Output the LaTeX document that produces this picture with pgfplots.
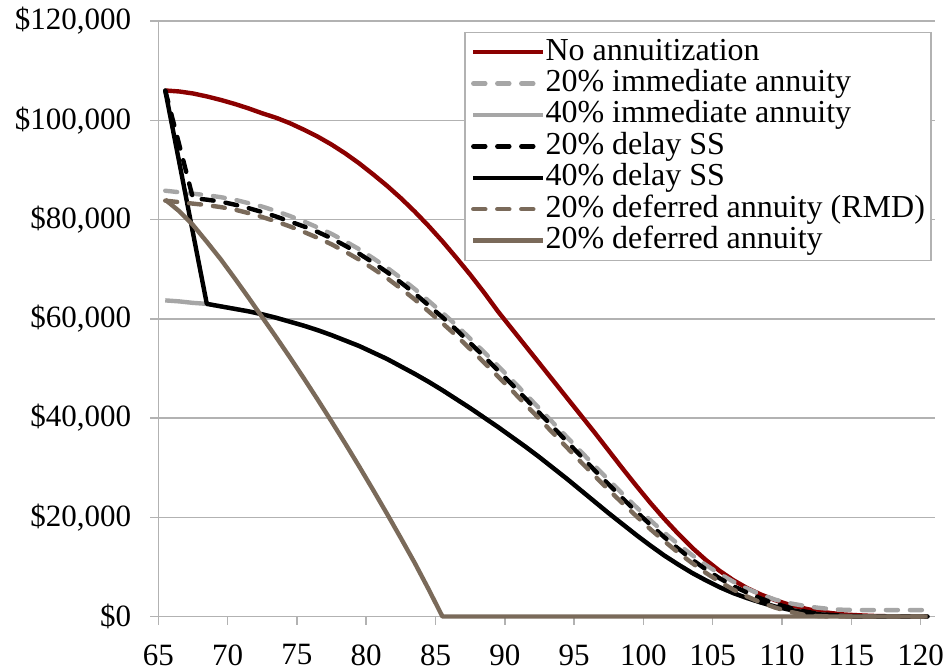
\documentclass[border=0pt]{standalone}
\usepackage{fontspec}
\setmainfont{Liberation Serif}
\usepackage{pgfplots}
\usepackage{pgfplotstable}
\pgfplotsset{compat=1.18}

\definecolor{noann}{RGB}{139,0,0}
\definecolor{lgray}{RGB}{166,166,166}
\definecolor{tan}{RGB}{122,106,90}
\definecolor{gridc}{RGB}{178,178,178}

% age, then remaining portfolio for each strategy
\pgfplotstableread{
age noann  imm20 imm40 dss20  dss40  rmd20 def20
65  106000 85800 63700 106000 106000 83800 84000
66  105800 85500 63500 95200  91700  83500 81700
67  105400 85200 63200 84300  77300  83200 78900
68  104800 84900 63000 84000  63000  82900 75500
69  104100 84500 62500 83600  62500  82500 72000
70  103300 84000 62000 83000  62000  82000 68200
71  102400 83300 61500 82300  61500  81300 64300
72  101400 82600 60900 81500  60900  80500 60300
73  100500 81700 60200 80600  60200  79600 56300
74  99400  80700 59400 79600  59400  78600 52200
75  98100  79600 58600 78600  58600  77500 48000
76  96700  78400 57700 77500  57700  76300 43700
77  95100  77100 56700 76200  56700  75000 39300
78  93300  75600 55600 74700  55600  73500 34800
79  91300  74000 54500 73100  54500  71900 30200
80  89100  72200 53200 71300  53200  70100 25500
81  86800  70300 51900 69400  51900  68200 20700
82  84300  68200 50400 67300  50400  66100 15800
83  81600  66000 48900 65100  48900  63900 10800
84  78700  63600 47300 62700  47300  61500 5500
85  75600  61200 45600 60300  45600  59100 0
86  72300  58700 43800 57800  43800  56600 0
87  68900  56000 42000 55100  42000  53900 0
88  65300  53300 40100 52400  40100  51200 0
89  61500  50500 38200 49600  38200  48400 0
90  58000  47700 36200 46800  36200  45600 0
91  54500  44800 34200 43900  34200  42700 0
92  51000  41900 32100 41000  32100  39800 0
93  47500  39000 29900 38100  29900  36900 0
94  44000  36100 27700 35200  27700  34000 0
95  40500  33200 25400 32300  25400  31100 0
96  37000  30300 23100 29400  23100  28300 0
97  33400  27500 20800 26600  20800  25500 0
98  29800  24700 18600 23800  18600  22800 0
99  26300  22000 16400 21100  16400  20200 0
100 22900  19400 14300 18500  14300  17600 0
101 19700  16900 12300 16000  12300  15200 0
102 16700  14600 10500 13700  10500  12900 0
103 13900  12400 8800  11500  8800   10800 0
104 11400  10400 7300  9500   7300   8800  0
105 9200   8600  5900  7700   5900   7000  0
106 7300   7000  4700  6100   4700   5400  0
107 5700   5600  3700  4800   3700   4000  0
108 4400   4400  2800  3600   2800   2800  0
109 3300   3400  2000  2600   2000   1800  0
110 2400   2700  1400  1800   1400   1000  0
111 1700   2200  900   1100   900    400   0
112 1100   1800  500   600    500    100   0
113 700    1500  250   300    250    0     0
114 400    1350  100   150    100    0     0
115 250    1300  0     50     0      0     0
116 120    1300  0     0      0      0     0
117 60     1300  0     0      0      0     0
118 30     1300  0     0      0      0     0
119 10     1300  0     0      0      0     0
120 0      1300  0     0      0      0     0
}\datatable

\begin{document}
\begin{tikzpicture}
\useasboundingbox (-79.15pt,-27.25pt) rectangle (396.35pt,308.25pt);
\begin{axis}[
    at={(0,0)}, anchor=south west,
    scale only axis,
    width=388.1pt, height=297.75pt,
    xmin=65, xmax=121,
    ymin=0, ymax=120000,
    xtick={65,70,...,120},
    ytick={0,20000,...,120000},
    scaled y ticks=false,
    /pgf/number format/assume math mode=true,
    /pgf/number format/.cd, fixed, 1000 sep={,}, /pgfplots/.cd,
    yticklabel={\$\pgfmathprintnumber{\tick}},
    tick label style={font=\fontsize{15.5}{18}\selectfont},
    xticklabel style={yshift=-6.5pt},
    yticklabel style={xshift=-6pt},
    axis x line*=bottom, axis y line*=left,
    axis line style={-, draw=gridc, line width=0.75pt},
    tick style={draw=gridc, line width=0.75pt},
    tick align=outside,
    major tick length=4pt,
    ymajorgrids,
    major grid style={draw=gridc, line width=0.75pt},
    clip=false,
    every axis plot/.append style={line width=2.2pt, line join=round},
    legend image code/.code={\draw[#1] (0pt,0pt) -- (35pt,0pt);},
    legend cell align=left,
    legend style={
        at={(0.9964,0.982)}, anchor=north east,
        draw=gridc, line width=0.75pt,
        font=\fontsize{16}{18}\selectfont,
        inner xsep=3pt, inner ysep=2pt,
        row sep=0pt,
        nodes={inner sep=0pt, text height=11.8pt, text depth=3.9pt},
        /tikz/every even column/.append style={column sep=0pt},
    },
]
\addplot[noann] table[x expr=\thisrow{age}+0.5, y=noann] {\datatable};
\addlegendentry{No annuitization}
\addplot[lgray, dash pattern=on 6pt off 6pt, line cap=round] table[x expr=\thisrow{age}+0.5, y=imm20] {\datatable};
\addlegendentry{20\% immediate annuity}
\addplot[lgray] table[x expr=\thisrow{age}+0.5, y=imm40] {\datatable};
\addlegendentry{40\% immediate annuity}
\addplot[black, dash pattern=on 6pt off 6pt, line cap=round] table[x expr=\thisrow{age}+0.5, y=dss20] {\datatable};
\addlegendentry{20\% delay SS}
\addplot[black] table[x expr=\thisrow{age}+0.5, y=dss40] {\datatable};
\addlegendentry{40\% delay SS}
\addplot[tan, dash pattern=on 6pt off 6pt, line cap=round] table[x expr=\thisrow{age}+0.5, y=rmd20] {\datatable};
\addlegendentry{20\% deferred annuity (RMD)}
\addplot[tan] table[x expr=\thisrow{age}+0.5, y=def20] {\datatable};
\addlegendentry{20\% deferred annuity}
\end{axis}
\end{tikzpicture}
\end{document}
